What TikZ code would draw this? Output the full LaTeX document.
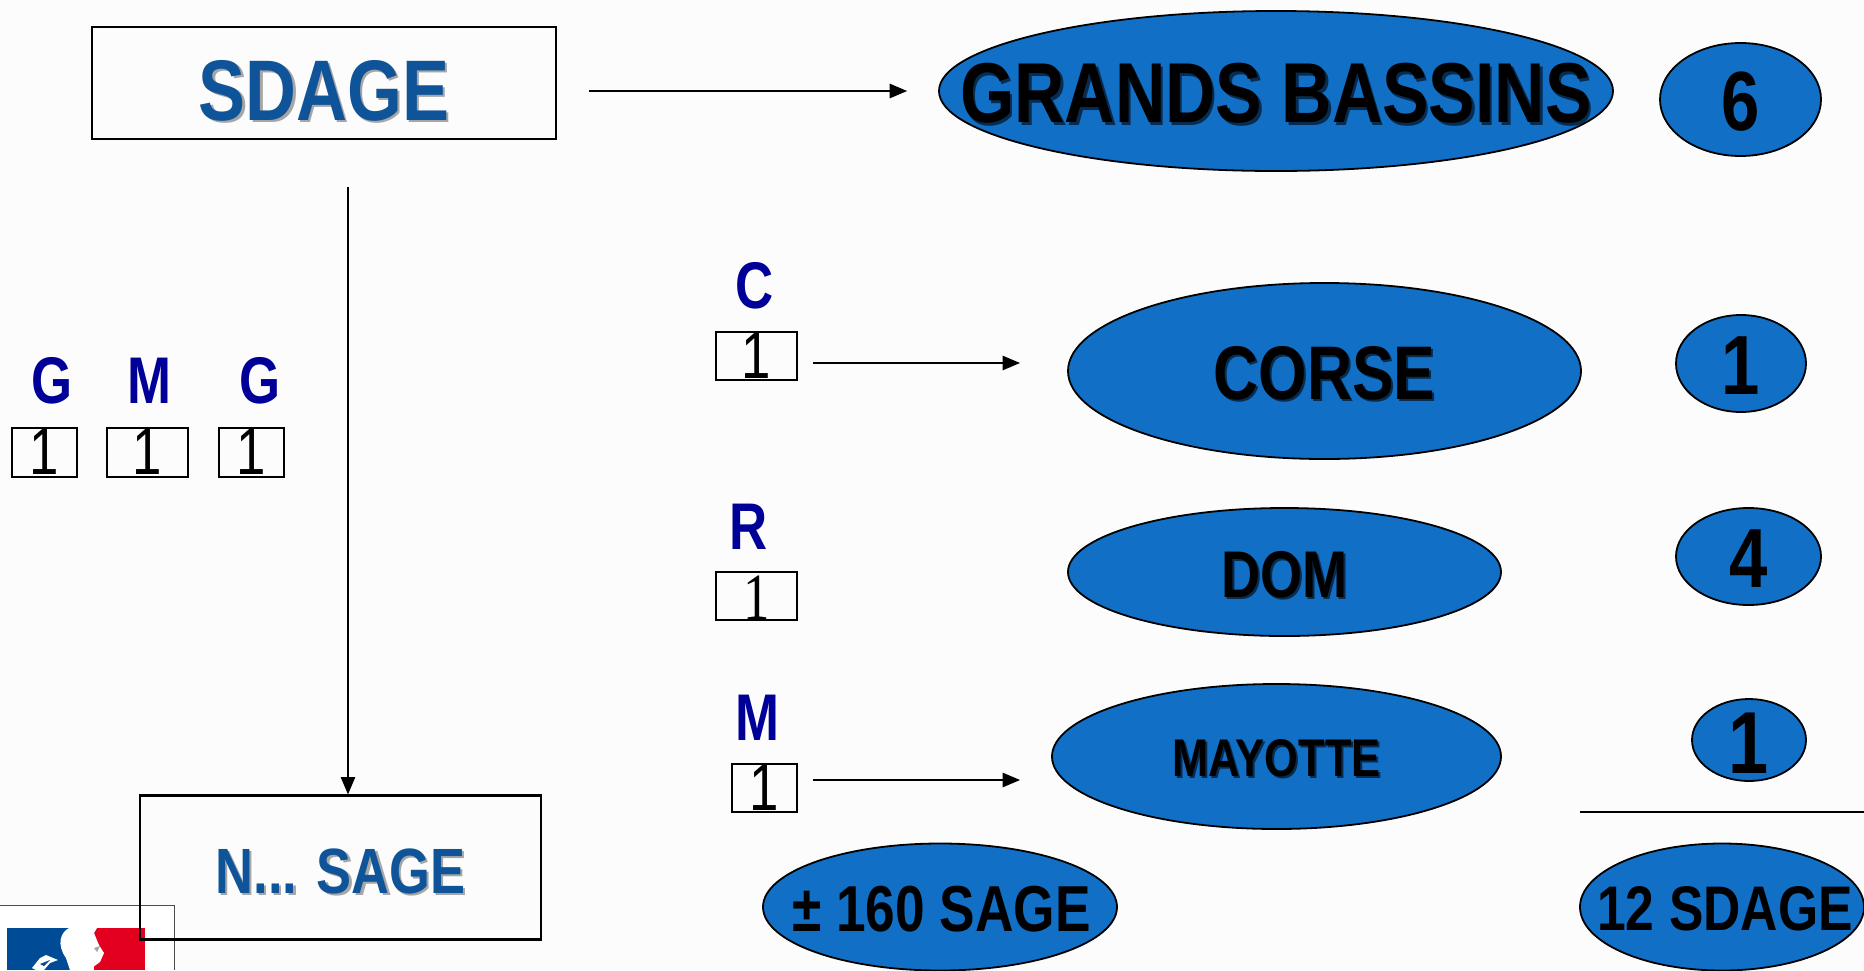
\documentclass[tikz,border=0pt]{standalone}
\usepackage{fontspec}
\usepackage{xcolor}
\usetikzlibrary{shapes,arrows}
\setmainfont{Liberation Sans}
\newfontfamily\bassinfont[FakeStretch=.82]{Liberation Sans}
\newfontfamily\lettrefont[FakeStretch=.8]{Liberation Sans}
\newfontfamily\unfont[FakeStretch=.8]{Liberation Sans}
\newfontfamily\unseriffont[FakeStretch=.8]{Liberation Serif}
\definecolor{bassinblue}{HTML}{116FC6}
\definecolor{titleblue}{HTML}{0F5499}
\definecolor{letterblue}{HTML}{000099}
\definecolor{flagblue}{HTML}{004B96}
\definecolor{flagred}{HTML}{E2001E}
\definecolor{paper}{HTML}{FCFCFC}
\newcommand{\shadowed}[3]{\leavevmode\rlap{\hspace{#2}\raisebox{-#2}{\textcolor{#1}{#3}}}#3}
\newcommand{\fitted}[2]{\makebox[0pt][c]{\raisebox{-#1}[\height][\depth]{#2}}}

\begin{document}
\begin{tikzpicture}[
			x = 0.5pt,
			y = -0.5pt,
			line width = 0.9pt,
			oval/.style 2 args = {ellipse,draw=black,fill=bassinblue,text=black,inner sep=0pt,minimum width=#1*0.5pt,minimum height=#2*0.5pt},
			bassintxt/.style = {font=\bassinfont\bfseries\fontsize{#1}{#1}\selectfont},
			titlebox/.style 2 args = {draw=black,line width=1.1pt,inner sep=0pt,text=titleblue,minimum width=#1*0.5pt,minimum height=#2*0.5pt},
			countbox/.style 2 args = {draw=black,line width=1pt,inner sep=0pt,minimum width=#1*0.5pt,minimum height=#2*0.5pt},
			letter/.style = {inner sep=0pt,text=letterblue,font=\lettrefont\bfseries\fontsize{33}{33}\selectfont},
			flow/.style = {-triangle 45,line width=1pt}
			]

			\useasboundingbox (0,0) rectangle (1864,970);
			\fill[paper] (0,0) rectangle (1864,970);

			% logo
			\fill[white] (0,905) rectangle (174,970);
			\draw[black!70,line width=0.5pt] (0,905) -- (174,905) -- (174,970);
			\fill[flagblue] (7,928) rectangle (72,970);
			\fill[flagred] (94,928) rectangle (145,970);
			\fill[white] (69,928) .. controls (61,932) and (56,944) .. (66,958) -- (70,970) -- (89,970) -- (100,962) -- (104,953) -- (99,945) -- (94,933) -- (97,928) -- cycle;
			\fill[white] (32,968) -- (40,958) -- (46,955) -- (58,960) -- (50,963) -- (44,970) -- (36,970) -- cycle;
			\fill[flagblue] (40,964) -- (50,960) -- (44,966) -- cycle;
			\fill[black!35] (94,948) -- (100,946) -- (97,952) -- cycle;

			% title boxes
			\node[titlebox={464}{112},bassintxt=43] (sdagebox) at (324,83) {\fitted{4.5pt}{\shadowed{black!35}{1.2pt}{SDAGE}}};
			\node[titlebox={401}{144},bassintxt=32] (nsagebox) at (340.5,867.5) {\fitted{2.5pt}{\shadowed{black!35}{1.2pt}{N... SAGE}}};

			% basins and counts
			\node[oval={674}{160},bassintxt=42.5] (grands) at (1276,91) {\fitted{1.8pt}{\shadowed{black!60!bassinblue}{1.2pt}{GRANDS BASSINS}}};
			\node[oval={161}{113},bassintxt=42] (ngrands) at (1740.5,99.5) {\fitted{1pt}{6}};
			\node[oval={513}{176},bassintxt=38] (corse) at (1324.5,371) {\fitted{1.8pt}{\shadowed{black!60!bassinblue}{1pt}{CORSE}}};
			\node[oval={130}{97},bassintxt=42] (ncorse) at (1741,363.5) {\fitted{1pt}{1}};
			\node[oval={433}{128},bassintxt=33] (dom) at (1284.5,572) {\fitted{1.8pt}{\shadowed{black!60!bassinblue}{1pt}{DOM}}};
			\node[oval={145}{97},bassintxt=42] (ndom) at (1748.5,556.5) {\fitted{1pt}{4}};
			\node[oval={449}{145},bassintxt=26.5] (mayotte) at (1276.5,756.5) {\fitted{1.5pt}{\shadowed{black!60!bassinblue}{1pt}{MAYOTTE}}};
			\node[oval={114}{82},bassintxt=44] (nmayotte) at (1749,740) {\makebox[0pt][c]{\raisebox{-16.7pt}[0pt][0pt]{1}}};

			% totals
			\node[oval={354}{127},bassintxt=32.5] (totalsage) at (940,907) {\fitted{1.3pt}{\hspace{1.5pt}± 160 SAGE}};
			\node[oval={284}{127},bassintxt=31.5] (totalsdage) at (1722,907) {\fitted{1pt}{\hspace{3pt}12 SDAGE}};
			\coordinate (ruleleft) at (1580,812);
			\coordinate (ruleright) at (1864,812);
			\draw (ruleleft) -- (ruleright);

			% left group
			\node[letter] (lettergone) at (52,381) {G};
			\node[letter] (lettermid) at (149,381) {M};
			\node[letter] (lettergtwo) at (260,381) {G};
			\node[countbox={65}{49},font=\unfont\fontsize{33}{33}\selectfont] (boxgone) at (44.5,452) {1};
			\node[countbox={81}{49},font=\unfont\fontsize{33}{33}\selectfont] (boxmid) at (147.5,452) {1};
			\node[countbox={65}{49},font=\unfont\fontsize{33}{33}\selectfont] (boxgtwo) at (251.5,452) {1};

			% middle group
			\node[letter] (letterc) at (755,286) {C};
			\node[letter] (letterr) at (749,527) {R};
			\node[letter] (letterm) at (757,718) {M};
			\node[countbox={81}{48},font=\unfont\fontsize{33}{33}\selectfont] (boxc) at (756.5,356) {1};
			\node[countbox={81}{48},font=\unseriffont\fontsize{33}{33}\selectfont] (boxr) at (756.5,596) {\fitted{1pt}{1}};
			\node[countbox={65}{48},font=\unfont\fontsize{33}{33}\selectfont] (boxm) at (764.5,787.5) {1};

			% arrows
			\coordinate (sdagefoot) at (348,187);
			\coordinate (corsein) at (1020,363);
			\coordinate (mayottein) at (1020,780);
			\draw[flow,shorten <=16pt,shorten >=15.5pt] (sdagebox.east |- grands.west) -- (grands.west);
			\draw[flow] (sdagefoot) -- (sdagefoot |- nsagebox.north);
			\draw[flow,shorten <=7.5pt] (boxc.east |- corsein) -- (corsein);
			\draw[flow,shorten <=7.5pt] (boxm.east |- mayottein) -- (mayottein);

		\end{tikzpicture}
\end{document}
